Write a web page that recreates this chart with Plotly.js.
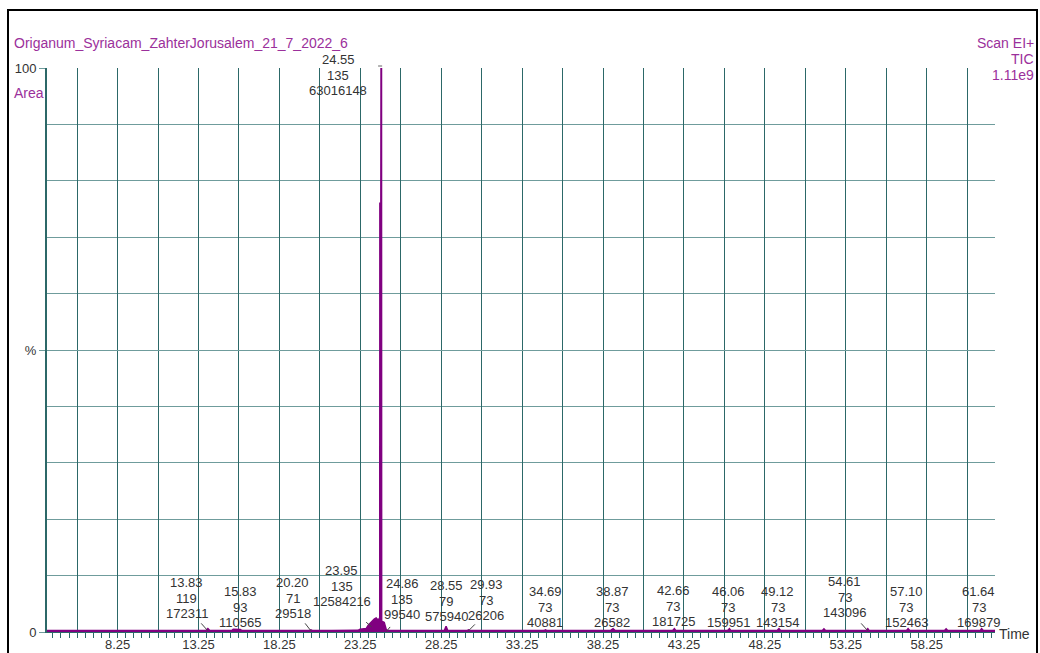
<!DOCTYPE html>
<html>
<head>
<meta charset="utf-8">
<script src="https://cdn.plot.ly/plotly-3.0.1.min.js"></script>
<style>
html,body{margin:0;padding:0;background:#fff;}
#chart{width:1040px;height:653px;}
</style>
</head>
<body>
<div id="chart"></div>
<script>
// ---- Data ----
const ticTime = [3.89, 5.0, 6.0, 7.0, 8.0, 9.0, 10.0, 11.0, 12.0, 13.0, 13.70, 13.83, 13.95,
  15.0, 15.30, 15.40, 15.83, 15.95, 17.0, 18.0, 19.0, 20.10, 20.20, 20.30, 21.5, 22.5, 23.10,
  23.24, 23.43, 23.61, 23.74, 23.86, 23.99, 24.11, 24.23, 24.36, 24.42, 24.45, 24.46, 24.52,
  24.53, 24.56, 24.57, 24.61, 24.67, 24.73, 24.79, 24.86, 25.0, 26.0, 27.0, 28.0, 28.45, 28.55,
  28.65, 29.5, 29.85, 29.93, 30.05, 31.5, 33.0, 34.6, 34.69, 34.8, 36.5, 38.7, 38.87, 39.0, 41.0,
  42.55, 42.66, 42.75, 44.5, 45.95, 46.06, 46.15, 47.5, 49.0, 49.12, 49.22, 50.5, 51.8,
  51.9, 52.0, 53.5, 54.5, 54.61, 54.7, 56.0, 57.0, 57.10, 57.2, 58.5, 59.35, 59.45, 59.55,
  60.5, 61.55, 61.64, 61.75, 62.47];
const ticPercent = [0.25, 0.25, 0.25, 0.25, 0.25, 0.25, 0.25, 0.25, 0.25, 0.25, 0.25, 0.6, 0.25,
  0.25, 0.25, 0.5, 0.45, 0.25, 0.25, 0.25, 0.25, 0.25, 0.4, 0.25, 0.25, 0.25, 0.3,
  0.5, 0.5, 0.6, 1.2, 1.6, 2.0, 2.3, 2.5, 2.1, 2.4, 2.4, 76.0, 76.0,
  100.0, 100.0, 1.9, 1.9, 1.8, 1.7, 0.9, 0.35, 0.25, 0.25, 0.25, 0.25, 0.3, 1.0,
  0.3, 0.25, 0.25, 0.4, 0.25, 0.25, 0.25, 0.25, 0.4, 0.25, 0.25, 0.25, 0.6, 0.25, 0.25,
  0.25, 0.6, 0.25, 0.25, 0.25, 0.6, 0.25, 0.25, 0.25, 0.6, 0.25, 0.25, 0.25,
  0.55, 0.25, 0.25, 0.25, 0.6, 0.25, 0.25, 0.25, 0.6, 0.25, 0.25, 0.25, 0.55, 0.25,
  0.25, 0.25, 0.6, 0.25, 0.25];

const peakTimes = ['13.83', '15.83', '20.20', '23.95', '24.55', '24.86', '28.55', '29.93',
  '34.69', '38.87', '42.66', '46.06', '49.12', '54.61', '57.10', '61.64'];
const peakMasses = ['119', '93', '71', '135', '135', '135', '79', '73',
  '73', '73', '73', '73', '73', '73', '73', '73'];
const peakAreas = ['172311', '110565', '29518', '12584216', '63016148', '99540', '575940', '26206',
  '40881', '26582', '181725', '159951', '143154', '143096', '152463', '169879'];

const majorTickLabels = ['8.25', '13.25', '18.25', '23.25', '28.25', '33.25', '38.25',
  '43.25', '48.25', '53.25', '58.25'];
const yTickLabels = ['0', '%', '100'];

// ---- Layout helpers (positions / styles only) ----
const PLOT_T = 68, PLOT_H = 564, PLOT_L = 47, PLOT_W = 948;
const pyToPaper = py => (PLOT_T + PLOT_H - py) / PLOT_H;
const pxToPaper = px => (px - PLOT_L) / PLOT_W;
const LINE_GAP = 15.5;
// label centre offsets (px from peak) and middle-line y (px)
const labelDx = [-21, 0, -18, -30, -43, 16, 0, 18, 0, -1, -1, -1, -1, -23, -2, -3];
const labelMidY = [598, 607, 598, 586, 75, 599, 601, 600, 607, 607, 606, 607, 607, 597, 607, 607];
// leader lines: peak index, tip height (%), tail offset px
const leaders = [[0, 0.2, -8, -9], [2, 0.2, -7, -9], [3, 0.9, -7, -6], [5, 0.1, 5, -6],
  [7, 0.2, 8, -8], [13, 0.2, -8, -9]];

const PURPLE = '#800080';
const TXTPURPLE = '#9b309b';
const VGRID = '#2c6868';
const HGRID = '#6f9c9c';
const TXT = '#333333';
const FONT = 'Liberation Sans, Arial, sans-serif';
const FS = 13;

// x gridlines every 2.5 min, labels every 5
const xTickVals = [], xTickText = [];
majorTickLabels.forEach((lab) => {
  const v = parseFloat(lab);
  xTickVals.push(v - 2.5, v);
  xTickText.push('', lab);
});
xTickVals.push(60.75); xTickText.push('');

const trace = {
  x: ticTime, y: ticPercent, type: 'scatter', mode: 'lines',
  line: {color: PURPLE, width: 1.5},
  fill: 'tozeroy', fillcolor: PURPLE,
  hoverinfo: 'x+y'
};

const annotations = [];
peakTimes.forEach((t, i) => {
  [t, peakMasses[i], peakAreas[i]].forEach((line, k) => {
    annotations.push({
      x: parseFloat(t), xref: 'x', xshift: labelDx[i],
      y: pyToPaper(labelMidY[i] + (k - 1) * LINE_GAP), yref: 'paper',
      yanchor: 'middle', xanchor: 'center',
      text: line, showarrow: false,
      font: {family: FONT, size: FS, color: TXT}
    });
  });
});
leaders.forEach(([i, h, ax, ay]) => {
  annotations.push({
    x: parseFloat(peakTimes[i]), y: h, xref: 'x', yref: 'y', text: '',
    showarrow: true, arrowhead: 0, arrowwidth: 1, arrowcolor: '#444',
    ax: ax, ay: ay, standoff: 0, startstandoff: 0
  });
});
// header / side texts
const side = (px, py, txt, anchor, color) => ({
  x: pxToPaper(px), y: pyToPaper(py), xref: 'paper', yref: 'paper',
  xanchor: anchor, yanchor: 'middle', text: txt, showarrow: false,
  font: {family: FONT, size: 14, color: color}
});
annotations.push(
  side(12, 43, 'Origanum_Syriacam_ZahterJorusalem_21_7_2022_6', 'left', TXTPURPLE),
  side(12, 93, 'Area', 'left', TXTPURPLE),
  side(1036, 43, 'Scan EI+', 'right', TXTPURPLE),
  side(1036, 59, 'TIC', 'right', TXTPURPLE),
  side(1036, 75, '1.11e9', 'right', TXTPURPLE),
  side(997, 634, 'Time', 'left', TXT)
);

const peakT = parseFloat(peakTimes[4]);
const shapes = [
  // outer frame
  {type: 'rect', xref: 'paper', yref: 'paper',
   x0: pxToPaper(8), x1: pxToPaper(1037), y0: pyToPaper(660), y1: pyToPaper(10),
   line: {color: '#000', width: 2}, layer: 'above'},
  // peak top marker
  {type: 'line', xref: 'x', yref: 'paper', x0: peakT - 0.2, x1: peakT + 0.05,
   y0: pyToPaper(66), y1: pyToPaper(66), line: {color: '#666', width: 1}}
];

const layout = {
  width: 1040, height: 653,
  margin: {l: 47, r: 45, t: 68, b: 21, pad: 0},
  paper_bgcolor: '#fff', plot_bgcolor: '#fff',
  showlegend: false,
  font: {family: FONT, size: FS, color: TXT},
  xaxis: {
    range: [3.89, 62.47], tickmode: 'array', tickvals: xTickVals, ticktext: xTickText,
    showgrid: true, gridcolor: VGRID, gridwidth: 1, zeroline: false,
    showline: true, linecolor: VGRID, linewidth: 1,
    ticks: 'outside', ticklen: 5, tickcolor: VGRID, tickwidth: 1,
    ticklabelstandoff: -5,
    tickfont: {family: FONT, size: FS, color: TXT},
    minor: {tickmode: 'linear', tick0: 8.25, dtick: 0.5, ticks: 'outside', ticklen: 5,
            tickcolor: VGRID, tickwidth: 1, showgrid: false},
    fixedrange: true
  },
  yaxis: {
    range: [0, 100], tickmode: 'array', tickvals: [0, 50, 100], ticktext: yTickLabels,
    showgrid: true, gridcolor: HGRID, gridwidth: 1, zeroline: false,
    showline: true, linecolor: VGRID, linewidth: 2,
    ticks: 'outside', ticklen: 6, tickcolor: HGRID, tickwidth: 1,
    tickfont: {family: FONT, size: FS, color: TXT},
    minor: {tickmode: 'linear', tick0: 0, dtick: 10, showgrid: true, gridcolor: HGRID, gridwidth: 1},
    fixedrange: true
  },
  annotations: annotations,
  shapes: shapes
};

Plotly.newPlot('chart', [trace], layout, {displayModeBar: false, staticPlot: true});
</script>
</body>
</html>
